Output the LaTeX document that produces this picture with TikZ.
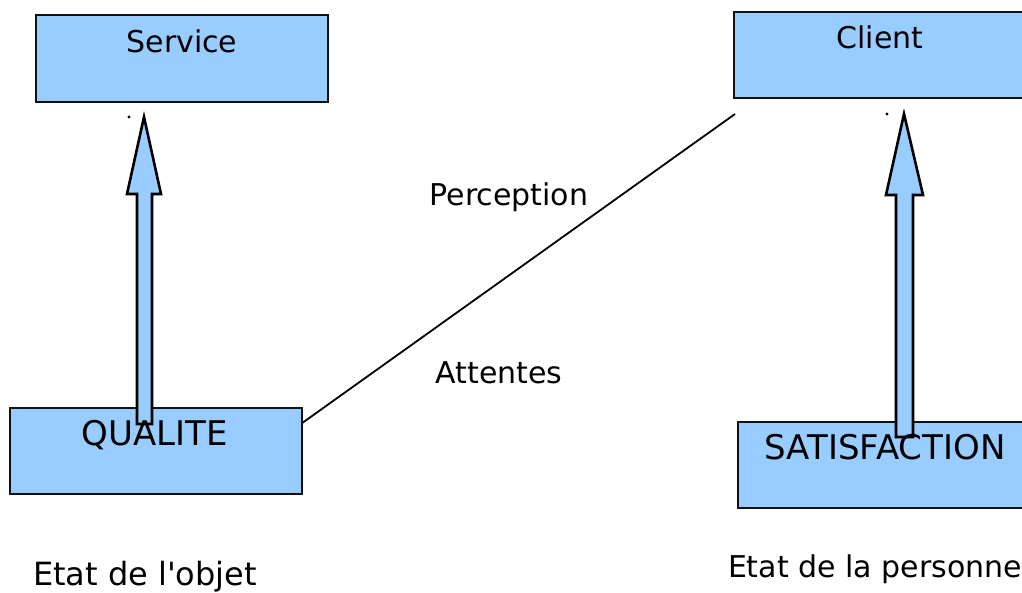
\documentclass[tikz,border=0pt]{standalone}
\usepackage{fontspec}
\setmainfont{DejaVu Sans}[Ligatures=TeXOff]
\definecolor{boxblue}{HTML}{99CCFF}
\definecolor{edge}{HTML}{111111}
\begin{document}
\begin{tikzpicture}[x=1pt,y=-1pt,
  box/.style={draw=edge,line width=2pt,fill=boxblue},
  lbl/.style={anchor=base,inner sep=0pt,font=\fontsize{30}{35}\selectfont},
  uplbl/.style={anchor=base,inner sep=0pt,font=\fontsize{34}{39}\selectfont},
  blockarrow/.style={draw=black,line width=2.6pt,fill=boxblue,line join=miter},
  link/.style={draw=black,line width=1.8pt}]
\useasboundingbox (0,0) rectangle (1022,592);
% boxes
\path[box] (36,15) rectangle (328,102);
\path[box] (734,12) rectangle (1026,98);
\path[box] (10,408) rectangle (302,494);
\path[box] (738,422) rectangle (1026,508);
\node[inner sep=0pt,minimum width=292pt,minimum height=87pt] (service) at (182,58.5) {};
\node[inner sep=0pt,minimum width=292pt,minimum height=86pt] (client) at (880,55) {};
\node[inner sep=0pt,minimum width=292pt,minimum height=86pt] (qualite) at (156,451) {};
\node[inner sep=0pt,minimum width=288pt,minimum height=86pt] (satisf) at (882,465) {};
% block arrows
\path[blockarrow] (137,424) -- (137,194) -- (127,194) -- (144,117) -- (161,194) -- (152,194) -- (152,424) -- cycle;
\path[blockarrow] (896,437) -- (896,195) -- (886,195) -- (904,114) -- (923,195) -- (913,195) -- (913,437) -- cycle;
\fill (129,117) circle (1.6pt);
\fill (887,114) circle (1.6pt);
% line
\coordinate (lineend) at (735,114);
\draw[link] (qualite.east |- 0,423) -- (lineend);
% texts
\node[lbl] (tservice) at (182,52) {Service};
\node[lbl] (tclient) at (880,48) {Client};
\node[uplbl] (tqualite) at (155,445) {QUALITE};
\node[uplbl] (tsatisf) at (885,459) {SATISFACTION};
\node[lbl] (tperc) at (509,205) {Perception};
\node[lbl] (tatt) at (499,383) {Attentes};
\node[lbl,font=\fontsize{32}{37}\selectfont] (tobjet) at (145,585) {Etat de l'objet};
\node[lbl] (tpers) at (875,577) {Etat de la personne};
\end{tikzpicture}
\end{document}
